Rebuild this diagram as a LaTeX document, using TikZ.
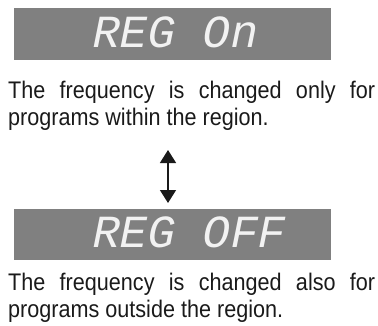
\documentclass[tikz,border=0pt]{standalone}
\usepackage{fontspec}
\setmainfont{Liberation Sans}
\newfontfamily\bodyfont[FakeStretch=0.9]{Liberation Sans}
\newfontfamily\segfont[FakeSlant=0.2]{Liberation Mono}
\usetikzlibrary{arrows.meta}
\definecolor{panelgray}{HTML}{808080}
\definecolor{segwhite}{HTML}{F2F2F2}
\definecolor{textblack}{HTML}{1A1A1A}

\begin{document}
\begin{tikzpicture}[x=1pt, y=1pt,
  segtext/.style={anchor=base west, inner sep=0pt, text=segwhite,
    font=\segfont\fontsize{46}{46}\selectfont},
  notetext/.style={anchor=base west, inner sep=0pt, text width=367pt,
    align=justify, text=textblack, font=\bodyfont\fontsize{24}{27}\selectfont}]

  % Canvas
  \useasboundingbox (0, 0) rectangle (378, 325);

  % Display panel: region on
  \fill[panelgray] (14, 265) rectangle (331, 317);
  \node[segtext] (regon) at (90, 278) {REG On};

  % Explanation for region on
  \node[notetext] (onnote) at (8, 227)
    {The frequency is changed only for\linebreak programs within the region.};

  % Toggle arrow
  \coordinate (uptip) at (168, 175);
  \coordinate (downtip) at (168, 122);
  \draw[textblack, line width=1.5pt,
    {Triangle[width=16pt, length=13pt]}-{Triangle[width=16pt, length=13pt]}]
    (uptip) -- (downtip);

  % Display panel: region off
  \fill[panelgray] (14, 65) rectangle (331, 116);
  \node[segtext] (regoff) at (90, 78) {REG OFF};

  % Explanation for region off
  \node[notetext] (offnote) at (8, 35)
    {The frequency is changed also for\linebreak programs outside the region.};

\end{tikzpicture}
\end{document}
